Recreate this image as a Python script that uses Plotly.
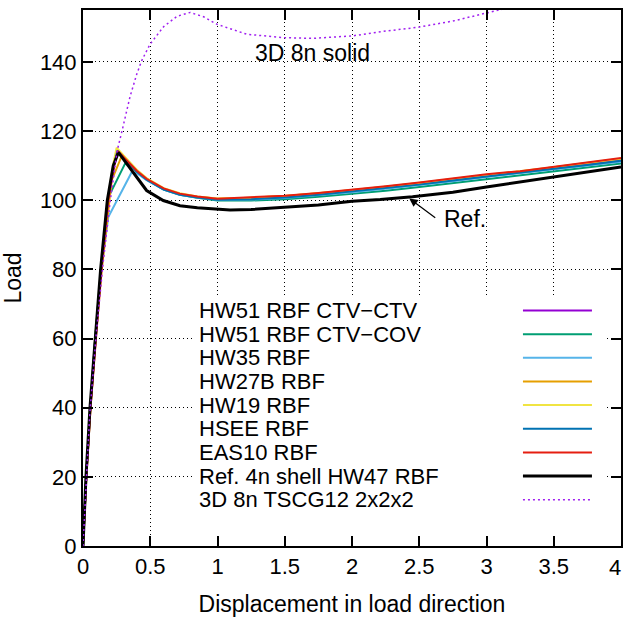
import plotly.graph_objects as go

# ---------------- data ----------------
x_ticks = [0, 0.5, 1, 1.5, 2, 2.5, 3, 3.5, 4]
x_tick_labels = ["0", "0.5", "1", "1.5", "2", "2.5", "3", "3.5", "4"]
y_ticks = [0, 20, 40, 60, 80, 100, 120, 140]
y_tick_labels = ["0", "20", "40", "60", "80", "100", "120", "140"]

tail_x = [1.0, 1.25, 1.5, 1.75, 2.0, 2.25, 2.5, 2.75, 3.0, 3.25, 3.5, 3.75, 4.0]

ctvctv_x = [0, 0.024, 0.054, 0.091, 0.134, 0.185, 0.23, 0.258, 0.3, 0.35, 0.4, 0.473, 0.6, 0.72, 0.85] + tail_x
ctvctv_y = [0, 20, 40, 60, 80, 100, 110, 114.4, 112.4, 110.5, 108.3, 106.0, 103.2, 101.7, 100.9,
            100.2, 100.4, 100.9, 101.7, 102.6, 103.6, 104.7, 105.9, 107.1, 108.2, 109.3, 110.5, 111.6]

ctvcov_x = [0, 0.024, 0.054, 0.091, 0.136, 0.188, 0.312, 0.35, 0.4, 0.473, 0.6, 0.72, 0.85] + tail_x
ctvcov_y = [0, 20, 40, 60, 80, 100.8, 110.5, 110.2, 108.2, 105.9, 103.1, 101.6, 100.7,
            99.9, 99.9, 100.3, 101.0, 101.8, 102.7, 103.8, 104.9, 106.1, 107.2, 108.4, 109.5, 110.6]

hw35_x = [0, 0.024, 0.054, 0.091, 0.136, 0.188, 0.362, 0.4, 0.473, 0.6, 0.72, 0.85] + tail_x
hw35_y = [0, 20, 40, 60, 80, 95.1, 108.1, 107.8, 105.8, 103.1, 101.6, 100.8,
          100.1, 100.2, 100.6, 101.4, 102.3, 103.3, 104.3, 105.5, 106.7, 107.8, 108.9, 110.0, 111.1]

hw27b_x = [0, 0.025, 0.056, 0.094, 0.14, 0.213, 0.288, 0.35, 0.4, 0.473, 0.6, 0.72, 0.85] + tail_x
hw27b_y = [0, 20, 40, 60, 80, 105.7, 112.8, 110.6, 108.4, 106.1, 103.3, 101.8, 101.0,
           100.4, 100.7, 101.2, 102.0, 102.9, 103.9, 105.0, 106.2, 107.3, 108.3, 109.5, 110.8, 112.0]

hw19_x = [0, 0.023, 0.053, 0.09, 0.133, 0.183, 0.225, 0.25, 0.3, 0.35, 0.4, 0.473, 0.6, 0.72, 0.85] + tail_x
hw19_y = [0, 20, 40, 60, 80, 100, 110.5, 115.2, 113.0, 111.0, 108.8, 106.4, 103.5, 102.0, 101.1,
          100.5, 100.7, 101.2, 102.0, 102.9, 103.9, 105.0, 106.2, 107.3, 108.3, 109.5, 110.8, 112.0]

hsee_x = [0, 0.024, 0.054, 0.091, 0.134, 0.185, 0.23, 0.256, 0.3, 0.35, 0.4, 0.473, 0.6, 0.72, 0.85] + tail_x
hsee_y = [0, 20, 40, 60, 80, 100, 110, 114.3, 112.3, 110.4, 108.2, 105.9, 103.1, 101.6, 100.8,
          100.1, 100.3, 100.8, 101.6, 102.5, 103.5, 104.5, 105.7, 106.9, 108.0, 109.1, 110.2, 111.4]

eas10_x = [0, 0.025, 0.056, 0.094, 0.137, 0.188, 0.232, 0.26, 0.3, 0.35, 0.4, 0.473, 0.6, 0.72, 0.85] + tail_x
eas10_y = [0, 20, 40, 60, 80, 100, 110, 114.2, 112.5, 110.6, 108.5, 106.2, 103.4, 101.9, 101.1,
           100.4, 100.8, 101.3, 102.1, 103.0, 104.0, 105.1, 106.4, 107.5, 108.4, 109.6, 110.9, 112.2]

ref_x = [0, 0.022, 0.052, 0.089, 0.131, 0.181, 0.225, 0.263, 0.325, 0.387, 0.473, 0.597, 0.721,
         0.85, 0.969, 1.093, 1.25, 1.465, 1.75, 2.0, 2.21, 2.45, 2.75, 3.0, 3.25, 3.5, 3.75, 4.0]
ref_y = [0, 20, 40, 60, 80, 100, 110, 113.8, 110.5, 107.1, 102.8, 99.9, 98.4,
         97.8, 97.4, 97.2, 97.3, 97.8, 98.6, 99.7, 100.2, 101.0, 102.3, 103.8, 105.2, 106.6, 108.1, 109.6]

solid_x = [0, 0.05, 0.1, 0.15, 0.2, 0.254, 0.29, 0.35, 0.4, 0.436, 0.498, 0.6, 0.7, 0.796, 0.9,
           0.994, 1.217, 1.49, 1.71, 2.0, 2.23, 2.49, 2.75, 2.95, 3.2, 3.5, 4.0]
solid_y = [0, 38, 62, 82, 99, 114.3, 120, 130, 136.5, 140.3, 145.1, 150.2, 153.2, 154.3, 153.0,
           150.9, 148.0, 147.0, 146.8, 147.5, 148.8, 150.0, 151.8, 153.6, 156, 159, 163]

series = [
    ("HW51 RBF CTV\u2212CTV", ctvctv_x, ctvctv_y, "#9400d3", 2, "solid"),
    ("HW51 RBF CTV\u2212COV", ctvcov_x, ctvcov_y, "#009e73", 2, "solid"),
    ("HW35 RBF", hw35_x, hw35_y, "#56b4e9", 2, "solid"),
    ("HW27B RBF", hw27b_x, hw27b_y, "#e69f00", 2, "solid"),
    ("HW19 RBF", hw19_x, hw19_y, "#f0e442", 2, "solid"),
    ("HSEE RBF", hsee_x, hsee_y, "#0072b2", 2, "solid"),
    ("EAS10 RBF", eas10_x, eas10_y, "#e51e10", 2, "solid"),
    ("Ref. 4n shell HW47 RBF", ref_x, ref_y, "#000000", 3, "solid"),
    ("3D 8n TSCG12 2x2x2", solid_x, solid_y, "#a020f0", 1.5, "2px,3px"),
]

FONT = "Liberation Sans, Arial, sans-serif"

fig = go.Figure()
for name, xs, ys, col, w, dash in series:
    fig.add_trace(go.Scatter(x=xs, y=ys, mode="lines", name=name,
                             line=dict(color=col, width=w, dash=dash),
                             showlegend=False, cliponaxis=True))

# opaque key box (hides grid) and key entries
shapes = [dict(type="rect", xref="x", yref="y", x0=0.83, x1=3.88, y0=0, y1=72,
               fillcolor="white", line=dict(width=0), layer="between")]
annotations = []
row_top = 68.1
row_step = 6.84
for i, (name, xs, ys, col, w, dash) in enumerate(series):
    yy = row_top - i * row_step
    annotations.append(dict(x=0.848, y=yy, xref="x", yref="y", text=name, showarrow=False,
                            xanchor="left", yanchor="middle", height=21,
                            font=dict(family=FONT, size=22, color="black")))
    shapes.append(dict(type="line", xref="x", yref="y", x0=3.271, x1=3.784, y0=yy, y1=yy,
                       line=dict(color=col, width=w, dash=dash), layer="above"))

annotations.append(dict(x=1.706, y=142.7, xref="x", yref="y", text="3D 8n solid",
                        showarrow=False, xanchor="center", yanchor="middle",
                        font=dict(family=FONT, size=23, color="black")))
annotations.append(dict(x=2.426, y=100.5, xref="x", yref="y", ax=2.63, ay=94.6,
                        axref="x", ayref="y", text="", showarrow=True,
                        arrowhead=2, arrowsize=1.4, arrowwidth=1.2, arrowcolor="black"))
annotations.append(dict(x=2.667, y=94.6, xref="x", yref="y", text="Ref.",
                        showarrow=False, xanchor="left", yanchor="middle",
                        font=dict(family=FONT, size=23, color="black")))

# last x tick label: kept inside the page edge (right-aligned at the frame)
shown_x_labels = x_tick_labels[:-1] + [""]
annotations.append(dict(x=1, y=0, xref="paper", yref="paper", text=x_tick_labels[-1],
                        showarrow=False, xanchor="right", yanchor="middle",
                        xshift=2, yshift=-21,
                        font=dict(family=FONT, size=22, color="black")))

axis_common = dict(showline=True, linecolor="black", linewidth=2, mirror="ticks",
                   ticks="inside", ticklen=10, tickwidth=1.5, tickcolor="black",
                   showgrid=True, gridcolor="black", gridwidth=1, griddash="1px,3px",
                   zeroline=False, automargin=False, ticklabeloverflow="allow",
                   tickfont=dict(family=FONT, size=22, color="black"))

fig.update_layout(
    width=624, height=620,
    margin=dict(l=83, r=3, t=10, b=74),
    paper_bgcolor="white", plot_bgcolor="white",
    showlegend=False,
    shapes=shapes, annotations=annotations,
    xaxis=dict(range=[0, 4], tickvals=x_ticks, ticktext=shown_x_labels,
               title=dict(text="Displacement in load direction", standoff=17,
                          font=dict(family=FONT, size=23, color="black")),
               **axis_common),
    yaxis=dict(range=[0, 155], tickvals=y_ticks, ticktext=y_tick_labels,
               title=dict(text="Load", standoff=12,
                          font=dict(family=FONT, size=23, color="black")),
               **axis_common),
)

fig.write_html("out.html", config={"displayModeBar": False},
               post_script="document.body.style.margin='0';document.body.style.overflow='hidden';")
